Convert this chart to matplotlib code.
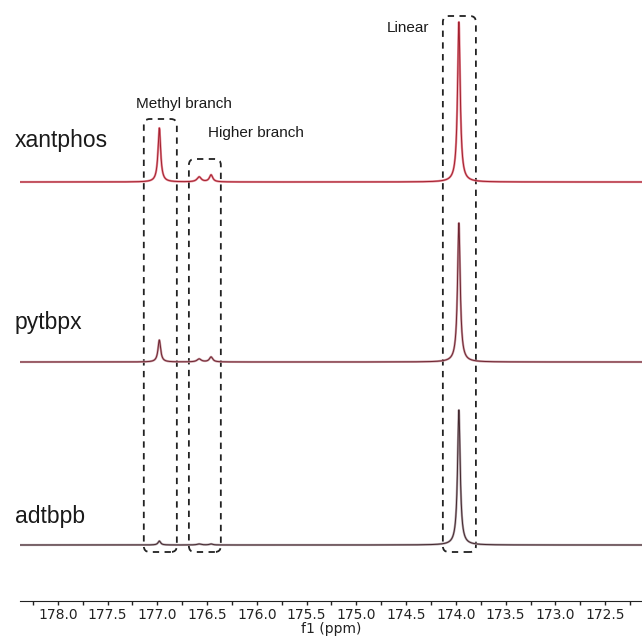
import numpy as np
import matplotlib.pyplot as plt
from matplotlib.patches import FancyBboxPatch

# spectra names and peak tables (ppm, relative height)
names = ["xantphos", "pytbpx", "adtbpb"]
peak_ppm = [176.98, 176.58, 176.46, 173.97]
xantphos_h = [54, 5, 7, 160]
pytbpx_h = [22, 3, 5, 139]
adtbpb_h = [4, 1, 1, 135]
peak_hwhm = [0.016, 0.025, 0.02, 0.016]

tick_vals = [178.0, 177.5, 177.0, 176.5, 176.0, 175.5, 175.0, 174.5, 174.0, 173.5, 173.0, 172.5]

# layout
offsets = [419, 239, 56]
line_cols = ["#a3202e", "#6e2430", "#43282e"]
glow_cols = ["#e58a96", "#c99aa2", "#b0a0a6"]


def lorentz(x, x0, h, g):
    return h * g**2 / ((x - x0)**2 + g**2)


def spectrum(x, heights):
    y = np.zeros_like(x)
    for x0, h, g in zip(peak_ppm, heights, peak_hwhm):
        y += lorentz(x, x0, h, g)
    return y


fig = plt.figure(figsize=(6.42, 6.37), dpi=100)
ax = fig.add_axes([20 / 642, 36 / 637, 622 / 642, 601 / 637])

x = np.linspace(178.38, 172.13, 6000)
for i, h in enumerate([xantphos_h, pytbpx_h, adtbpb_h]):
    y = spectrum(x, h) + offsets[i]
    ax.plot(x, y, color=glow_cols[i], lw=1.6)
    ax.plot(x, y, color=line_cols[i], lw=0.7)

# dashed region boxes (ppm left, ppm right, top, label, label x, label y)
boxes = [(177.136, 176.804, 482, "Methyl branch", 176.73, 497),
         (176.683, 176.362, 442, "Higher branch", 176.01, 468),
         (174.131, 173.799, 585, "Linear", 174.48, 573)]
for xl, xr, top, lab, tx, ty in boxes:
    p = FancyBboxPatch((xr, 49), xl - xr, top - 49,
                       boxstyle="round,pad=0,rounding_size=0.06",
                       mutation_aspect=99.5, fill=False, ec='#222222',
                       ls=(0, (3.5, 3)), lw=1.3)
    ax.add_patch(p)
    ax.text(tx, ty, lab, ha='center', va='center', fontsize=11,
            family='Liberation Sans', color='#1a1a1a')

name_y = [460, 278, 84]
for nm, ny in zip(names, name_y):
    ax.text(178.43, ny, nm, ha='left', va='center', fontsize=16.5,
            family='Liberation Sans', color='#1a1a1a')

ax.set_xlim(178.38, 172.13)
ax.set_ylim(0, 601)
ax.set_xticks(tick_vals)
ax.set_xticklabels([f"{v:.1f}" for v in tick_vals])
ax.set_xticks(np.arange(172.25, 178.3, 0.25), minor=True)
ax.tick_params(axis='x', which='both', direction='out', length=3,
               width=1, labelsize=10, pad=2, colors='#222222')
ax.set_xlabel("f1 (ppm)", fontsize=10, labelpad=0, color='#222222')
ax.set_yticks([])
for s in ['top', 'left', 'right']:
    ax.spines[s].set_visible(False)
ax.spines['bottom'].set_color('#222222')
ax.patch.set_alpha(0)

fig.savefig("out.png", dpi=100)
